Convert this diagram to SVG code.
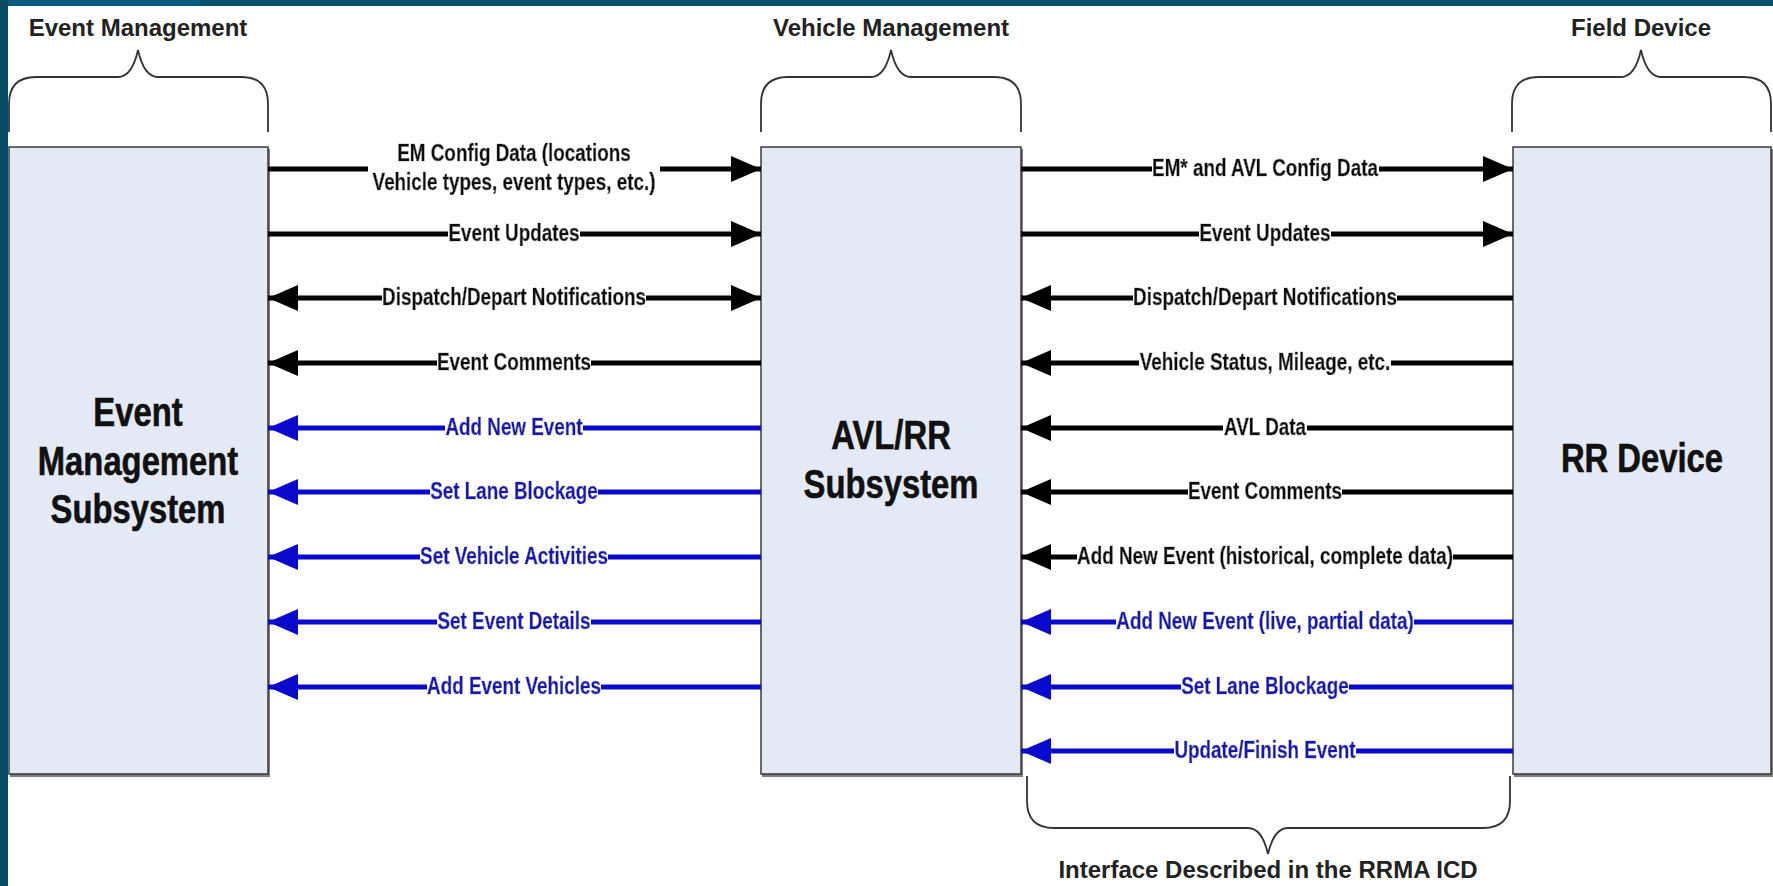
<svg xmlns="http://www.w3.org/2000/svg" width="1773" height="886" viewBox="0 0 1773 886">
  <style>
    .box { fill: #E3EAF5; stroke: #3A3A3A; stroke-width: 1.5; }
    .shadow { fill: #7E7E7E; }
    .node { font-family: "Liberation Sans", Arial, sans-serif; font-weight: bold; font-size: 40px; fill: #111; stroke: #111; stroke-width: 0.6; text-anchor: middle; }
    .title { font-family: "Liberation Sans", Arial, sans-serif; font-weight: bold; font-size: 24px; fill: #222; text-anchor: middle; }
    .brace { fill: none; stroke: #333; stroke-width: 1.8; }
    .lk { stroke: #000; stroke-width: 5; fill: none; }
    .lb { stroke: #0A0ACC; stroke-width: 5; fill: none; }
    .lab { font-family: "Liberation Sans", Arial, sans-serif; font-weight: bold; font-size: 23px; text-anchor: middle; stroke-width: 0.6; filter: url(#bg); }
    .k { fill: #111; stroke: #111; }
    .b { fill: #1818B0; stroke: #1818B0; }
  </style>
  <defs>
    <filter id="bg" x="0" y="0" width="1" height="1">
      <feFlood flood-color="#ffffff"/>
      <feComposite in="SourceGraphic" operator="over"/>
    </filter>
    <marker id="ak" markerUnits="userSpaceOnUse" markerWidth="30" markerHeight="26" refX="30" refY="13" orient="auto-start-reverse" viewBox="0 0 30 26">
      <path d="M0,0 L30,13 L0,26 z" fill="#000"/>
    </marker>
    <marker id="ab" markerUnits="userSpaceOnUse" markerWidth="30" markerHeight="26" refX="30" refY="13" orient="auto-start-reverse" viewBox="0 0 30 26">
      <path d="M0,0 L30,13 L0,26 z" fill="#0A0ACC"/>
    </marker>
  </defs>
  <rect x="0" y="0" width="1773" height="886" fill="#fff"/>
  <rect x="0" y="0" width="1773" height="6" fill="#05506D"/>
  <rect x="0" y="0" width="200" height="6" fill="#0A5B7C"/>
  <rect x="0" y="0" width="8" height="886" fill="#064B66"/>

  <g id="annotations">
    <text class="title" x="138" y="36">Event Management</text>
    <text class="title" x="891" y="36">Vehicle Management</text>
    <text class="title" x="1641" y="36">Field Device</text>
    <path class="brace" d="M9,132 L9,104 Q9,77 36,77 L118,77 Q132,77 138,50 Q144,77 158,77 L241,77 Q268,77 268,104 L268,132"/>
    <path class="brace" d="M761,132 L761,104 Q761,77 788,77 L871,77 Q885,77 891,50 Q897,77 911,77 L994,77 Q1021,77 1021,104 L1021,132"/>
    <path class="brace" d="M1512,132 L1512,104 Q1512,77 1539,77 L1621,77 Q1635,77 1641,50 Q1647,77 1661,77 L1744,77 Q1771,77 1771,104 L1771,132"/>
    <path class="brace" d="M1027,776 L1027,801 Q1027,828 1054,828 L1248,828 Q1262,828 1268,854 Q1274,828 1288,828 L1483,828 Q1510,828 1510,801 L1510,776"/>
    <text class="title" x="1268" y="878">Interface Described in the RRMA ICD</text>
  </g>

  <g id="event-management-subsystem">
    <rect class="shadow" x="10" y="149" width="260" height="628"/>
    <rect class="box" x="9" y="147" width="259" height="627"/>
    <g transform="translate(138,0) scale(0.82,1)">
      <text class="node" x="0" y="426">Event</text>
      <text class="node" x="0" y="475">Management</text>
      <text class="node" x="0" y="523">Subsystem</text>
    </g>
  </g>

  <g id="avl-rr-subsystem">
    <rect class="shadow" x="762" y="149" width="261" height="628"/>
    <rect class="box" x="761" y="147" width="260" height="627"/>
    <g transform="translate(891,0) scale(0.82,1)">
      <text class="node" x="0" y="449">AVL/RR</text>
      <text class="node" x="0" y="498">Subsystem</text>
    </g>
  </g>

  <g id="rr-device">
    <rect class="shadow" x="1514" y="149" width="259" height="628"/>
    <rect class="box" x="1513" y="147" width="258" height="627"/>
    <g transform="translate(1642,0) scale(0.82,1)">
      <text class="node" x="0" y="472">RR Device</text>
    </g>
  </g>

  <g id="connectors">
    <!-- left gap lines -->
    <line class="lk" x1="268" y1="169" x2="368" y2="169"/>
    <line class="lk" x1="660" y1="169" x2="761" y2="169" marker-end="url(#ak)"/>
    <line class="lk" x1="268" y1="234" x2="761" y2="234" marker-end="url(#ak)"/>
    <line class="lk" x1="268" y1="298" x2="761" y2="298" marker-start="url(#ak)" marker-end="url(#ak)"/>
    <line class="lk" x1="761" y1="363" x2="268" y2="363" marker-end="url(#ak)"/>
    <line class="lb" x1="761" y1="428" x2="268" y2="428" marker-end="url(#ab)"/>
    <line class="lb" x1="761" y1="492" x2="268" y2="492" marker-end="url(#ab)"/>
    <line class="lb" x1="761" y1="557" x2="268" y2="557" marker-end="url(#ab)"/>
    <line class="lb" x1="761" y1="622" x2="268" y2="622" marker-end="url(#ab)"/>
    <line class="lb" x1="761" y1="687" x2="268" y2="687" marker-end="url(#ab)"/>

    <!-- right gap lines -->
    <line class="lk" x1="1021" y1="169" x2="1513" y2="169" marker-end="url(#ak)"/>
    <line class="lk" x1="1021" y1="234" x2="1513" y2="234" marker-end="url(#ak)"/>
    <line class="lk" x1="1513" y1="298" x2="1021" y2="298" marker-end="url(#ak)"/>
    <line class="lk" x1="1513" y1="363" x2="1021" y2="363" marker-end="url(#ak)"/>
    <line class="lk" x1="1513" y1="428" x2="1021" y2="428" marker-end="url(#ak)"/>
    <line class="lk" x1="1513" y1="492" x2="1021" y2="492" marker-end="url(#ak)"/>
    <line class="lk" x1="1513" y1="557" x2="1021" y2="557" marker-end="url(#ak)"/>
    <line class="lb" x1="1513" y1="622" x2="1021" y2="622" marker-end="url(#ab)"/>
    <line class="lb" x1="1513" y1="687" x2="1021" y2="687" marker-end="url(#ab)"/>
    <line class="lb" x1="1513" y1="751" x2="1021" y2="751" marker-end="url(#ab)"/>

    <!-- left gap labels -->
    <g transform="translate(514,0) scale(0.82,1)">
      <text class="lab k" x="0" y="161">EM Config Data (locations</text>
      <text class="lab k" x="0" y="190">Vehicle types, event types, etc.)</text>
      <text class="lab k" x="0" y="241">Event Updates</text>
      <text class="lab k" x="0" y="305">Dispatch/Depart Notifications</text>
      <text class="lab k" x="0" y="370">Event Comments</text>
      <text class="lab b" x="0" y="435">Add New Event</text>
      <text class="lab b" x="0" y="499">Set Lane Blockage</text>
      <text class="lab b" x="0" y="564">Set Vehicle Activities</text>
      <text class="lab b" x="0" y="629">Set Event Details</text>
      <text class="lab b" x="0" y="694">Add Event Vehicles</text>
    </g>

    <!-- right gap labels -->
    <g transform="translate(1265,0) scale(0.82,1)">
      <text class="lab k" x="0" y="176">EM* and AVL Config Data</text>
      <text class="lab k" x="0" y="241">Event Updates</text>
      <text class="lab k" x="0" y="305">Dispatch/Depart Notifications</text>
      <text class="lab k" x="0" y="370">Vehicle Status, Mileage, etc.</text>
      <text class="lab k" x="0" y="435">AVL Data</text>
      <text class="lab k" x="0" y="499">Event Comments</text>
      <text class="lab k" x="0" y="564">Add New Event (historical, complete data)</text>
      <text class="lab b" x="0" y="629">Add New Event (live, partial data)</text>
      <text class="lab b" x="0" y="694">Set Lane Blockage</text>
      <text class="lab b" x="0" y="758">Update/Finish Event</text>
    </g>
  </g>
</svg>
